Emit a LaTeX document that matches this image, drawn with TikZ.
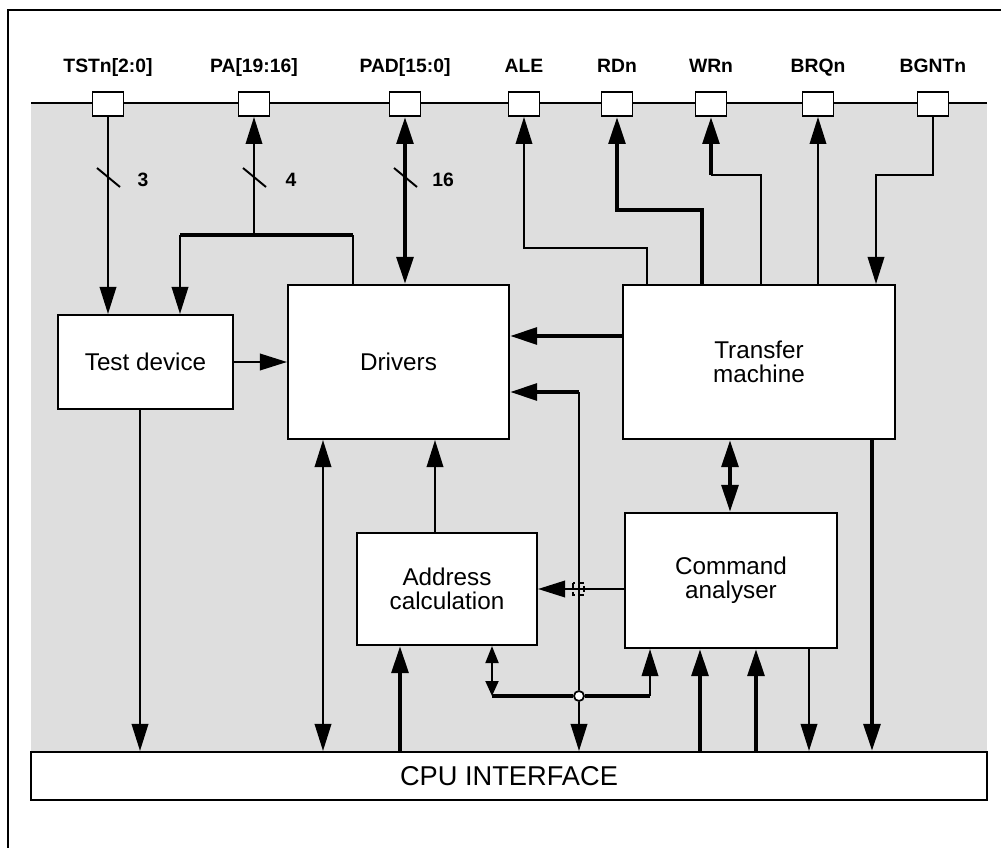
\documentclass[tikz,border=0pt]{standalone}
\usepackage{fontspec}
\setmainfont{Liberation Sans}
\usetikzlibrary{arrows.meta}
\definecolor{chipgray}{HTML}{DEDEDE}

\begin{document}
\begin{tikzpicture}[x=0.02cm, y=-0.02cm,
  >={Triangle[length=0.54cm, width=0.33cm]},
  wire/.style = {line width=1.1pt},
  bus/.style = {line width=2.4pt},
  block/.style = {draw, fill=white, line width=1.2pt, align=center,
    font=\fontsize{13.8}{13.5}\selectfont},
  pad/.style = {draw, fill=white, line width=1.1pt, inner sep=0pt,
    minimum width=0.62cm, minimum height=0.48cm},
  pinname/.style = {font=\bfseries\fontsize{11}{13}\selectfont,
    text height=0.75em, text depth=0.22em, label distance=0.16cm},
  buswidth/.style = {font=\bfseries\fontsize{11}{13}\selectfont},
  junc/.style = {circle, draw, fill=white, line width=1pt, inner sep=0pt,
    minimum size=0.2cm}]
\useasboundingbox (0,0) rectangle (1001,848);

% frame and chip area
\draw[line width=1pt] (1001,10) -| (8,848);
\fill[chipgray] (31,103) rectangle (987,752);
\draw[wire] (31,103) -- (987,103);

% pins
\node[pad, label={[pinname]above:{TSTn[2:0]}}] (tst) at (108,104) {};
\node[pad, label={[pinname]above:{PA[19:16]}}] (pa) at (254,104) {};
\node[pad, label={[pinname]above:{PAD[15:0]}}] (pad) at (405,104) {};
\node[pad, label={[pinname]above:{ALE}}] (ale) at (524,104) {};
\node[pad, label={[pinname]above:{RDn}}] (rd) at (617,104) {};
\node[pad, label={[pinname]above:{WRn}}] (wr) at (711,104) {};
\node[pad, label={[pinname]above:{BRQn}}] (brq) at (818,104) {};
\node[pad, label={[pinname]above:{BGNTn}}] (bgnt) at (933,104) {};

% blocks
\node[block, minimum width=3.5cm, minimum height=1.88cm] (test) at (145.5,362) {Test device};
\node[block, minimum width=4.42cm, minimum height=3.08cm] (drv) at (398.5,362) {Drivers};
\node[block, minimum width=5.44cm, minimum height=3.08cm] (tm) at (759,362) {Transfer\\machine};
\node[block, minimum width=4.24cm, minimum height=2.7cm] (ca) at (731,580.5) {Command\\analyser};
\node[block, minimum width=3.6cm, minimum height=2.24cm] (ac) at (447,589) {Address\\calculation};
\node[block, minimum width=19.12cm, minimum height=0.96cm,
  font=\fontsize{15.5}{16}\selectfont] (cpu) at (509,776) {CPU INTERFACE};

% pin side
\draw[wire, ->] (tst.south) -- (tst |- test.north);
\coordinate (s1) at (tst |- 0,178);
\draw[wire] ([shift={(-11,-10)}]s1) -- ([shift={(12,9)}]s1);
\node[buswidth] (n3) at (143,180) {3};

\coordinate (pal) at (180,235);
\coordinate (par) at (353,235);
\draw[bus] (pal) -- (par);
\draw[wire, ->] (pa |- pal) -- (pa.south);
\draw[wire, ->] (pal) -- (pal |- test.north);
\draw[wire] (par |- drv.north) -- (par);
\coordinate (s2) at (pa |- 0,178);
\draw[wire] ([shift={(-11,-10)}]s2) -- ([shift={(12,9)}]s2);
\node[buswidth] (n4) at (291,180) {4};

\draw[bus, <->] (pad.south) -- (pad |- drv.north);
\coordinate (s3) at (pad |- 0,178);
\draw[wire] ([shift={(-11,-10)}]s3) -- ([shift={(12,9)}]s3);
\node[buswidth] (n16) at (443,180) {16};

\draw[wire, ->] (647,0 |- tm.north) |- (ale |- 0,248) -- (ale.south);
\draw[bus, ->] (702,0 |- tm.north) |- (rd |- 0,210) -- (rd.south);
\draw[wire] (761,0 |- tm.north) |- (wr |- 0,175);
\draw[bus, ->] (wr |- 0,175) -- (wr.south);
\draw[wire, ->] (brq |- tm.north) -- (brq.south);
\draw[wire, ->] (bgnt.south) |- (876,175) -- (876,0 |- tm.north);

% inside
\draw[wire, ->] (test.east) -- (drv.west);
\draw[bus, ->] (tm.west |- 0,336) -- (drv.east |- 0,336);
\coordinate (adr) at (579,392);
\draw[bus, ->] (adr) -- (drv.east |- adr);
\node[junc] (j) at (579,696) {};
\draw[wire] (adr) -- (j);
\draw[wire, ->] (j) -- (j |- cpu.north);
\draw[wire, ->] (ca.west |- 0,589) -- (ac.east |- 0,589);
\draw[line width=0.7pt, densely dashed] (573,583) rectangle (584,595);
\draw[wire, ->] (435,0 |- ac.north) -- (435,0 |- drv.south);
\draw[bus, <->] (730,0 |- tm.south) -- (730,0 |- ca.north);

\draw[bus] (492,696) -- (j) -- (650,696);
\draw[wire, {Triangle[length=0.34cm, width=0.26cm]}-{Triangle[length=0.3cm, width=0.26cm]}]
  (492,0 |- ac.south) -- (492,696);
\draw[wire, ->] (650,696) -- (650,0 |- ca.south);

% cpu side
\draw[wire, ->] (140,0 |- test.south) -- (140,0 |- cpu.north);
\draw[wire, <->] (323,0 |- drv.south) -- (323,0 |- cpu.north);
\draw[bus, ->] (400,0 |- cpu.north) -- (400,0 |- ac.south);
\draw[bus, ->] (700,0 |- cpu.north) -- (700,0 |- ca.south);
\draw[bus, ->] (756,0 |- cpu.north) -- (756,0 |- ca.south);
\draw[wire, ->] (809,0 |- ca.south) -- (809,0 |- cpu.north);
\draw[bus, ->] (872,0 |- tm.south) -- (872,0 |- cpu.north);
\end{tikzpicture}
\end{document}
